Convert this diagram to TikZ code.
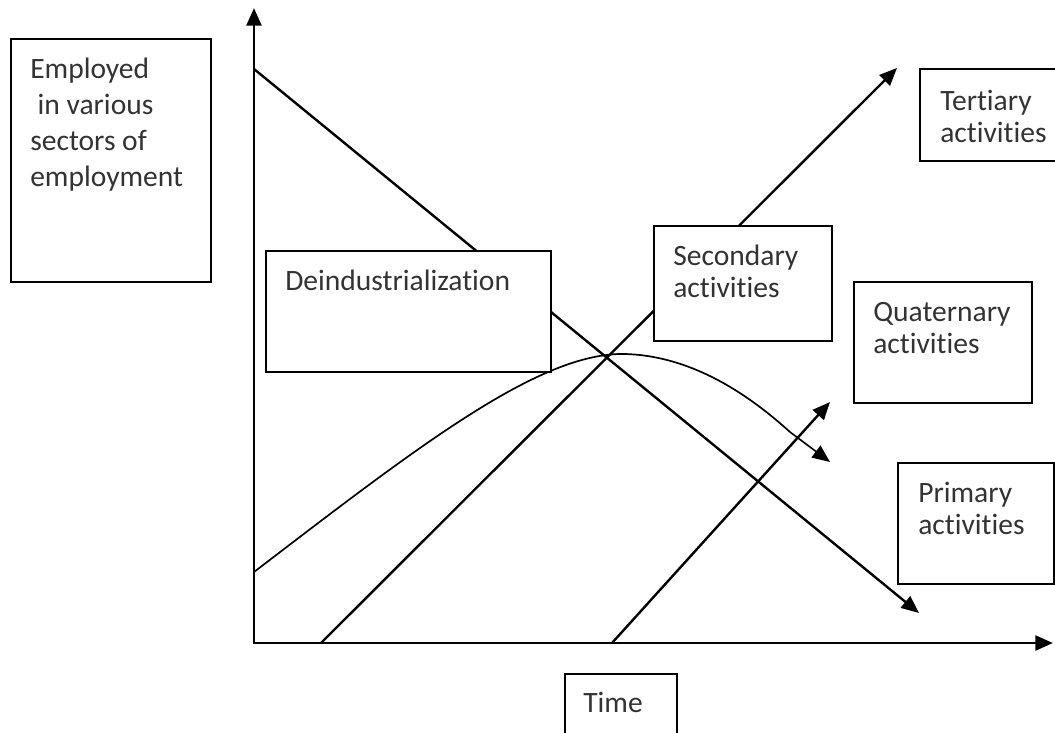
\documentclass[tikz,border=0pt]{standalone}
\usepackage{fontspec}
\setmainfont{Carlito}[Ligatures={NoCommon,NoContextual}]
\usetikzlibrary{arrows.meta,positioning}
\definecolor{ink}{HTML}{333333}

\begin{document}
\begin{tikzpicture}[x=0.025cm,y=-0.025cm,
  axis/.style={line width=2pt,{Triangle[length=12.5pt,width=10.5pt]}-{Triangle[length=12.5pt,width=10.5pt]}},
  trend/.style={line width=1.7pt,-{Triangle[length=12.5pt,width=10.5pt]}},
  box/.style={draw,line width=1.2pt,fill=white,anchor=north west,inner sep=0pt},
  lbl/.style={inner sep=0pt,align=left,text=ink,font=\fontsize{21}{22.5}\selectfont}]
  \clip (0,0) rectangle (1055,732);

  % Axes
  \coordinate (O) at (254,643);
  \coordinate (ytop) at (254,8);
  \coordinate (xend) at (1053,643);
  \draw[axis] (ytop) -- (O) -- (xend);

  % Trend lines
  \coordinate (prim0) at (254,69);
  \coordinate (prim1) at (919,613);
  \draw[trend] (prim0) -- (prim1);
  \coordinate (sec0) at (321,643);
  \coordinate (sec1) at (897,68);
  \draw[trend] (sec0) -- (sec1);
  \coordinate (quat0) at (612,643);
  \coordinate (quat1) at (830,402);
  \draw[trend] (quat0) -- (quat1);

  % Curve through the peak
  \coordinate (cur0) at (254,572);
  \coordinate (curpk) at (625,354);
  \coordinate (curkink) at (790,432);
  \coordinate (cur1) at (830,462);
  \draw[line width=1.2pt,-{Triangle[length=12.5pt,width=10.5pt]}] (cur0) .. controls (420,445) and (540,352) .. (curpk)
    .. controls (700,356) and (760,405) .. (curkink) -- (cur1);

  % Boxes
  \node[box,minimum width=5cm,minimum height=6.075cm] (empbox) at (10,38) {};
  \node[lbl,font=\fontsize{21}{25.6}\selectfont,below right=0.5cm and 0.5cm of empbox.north west] (emptext)
    {Employed\\\hspace*{0.25em}in various\\sectors of\\employment};

  \node[box,minimum width=7.125cm,minimum height=3.025cm] (deibox) at (265,250) {};
  \node[lbl,below right=0.5cm and 0.5cm of deibox.north west] (deitext) {Deindustrialization};

  \node[box,minimum width=4.45cm,minimum height=2.875cm] (secbox) at (653,225) {};
  \node[lbl,below right=0.5cm and 0.5cm of secbox.north west] (sectext) {Secondary\\activities};

  \node[box,minimum width=3.9cm,minimum height=2.3cm] (terbox) at (919,68) {};
  \node[lbl,below right=0.55cm and 0.525cm of terbox.north west] (tertext) {Tertiary\\activities};

  \node[box,minimum width=4.45cm,minimum height=3.025cm] (quabox) at (853,281) {};
  \node[lbl,below right=0.525cm and 0.5cm of quabox.north west] (quatext) {Quaternary\\activities};

  \node[box,minimum width=3.9cm,minimum height=3.025cm] (pribox) at (897,462) {};
  \node[lbl,below right=0.5cm and 0.525cm of pribox.north west] (pritext) {Primary\\activities};

  \node[box,minimum width=2.8cm,minimum height=1.8cm] (timebox) at (564,673) {};
  \node[lbl,below right=0.475cm and 0.475cm of timebox.north west] (timetext) {Time};
\end{tikzpicture}
\end{document}
